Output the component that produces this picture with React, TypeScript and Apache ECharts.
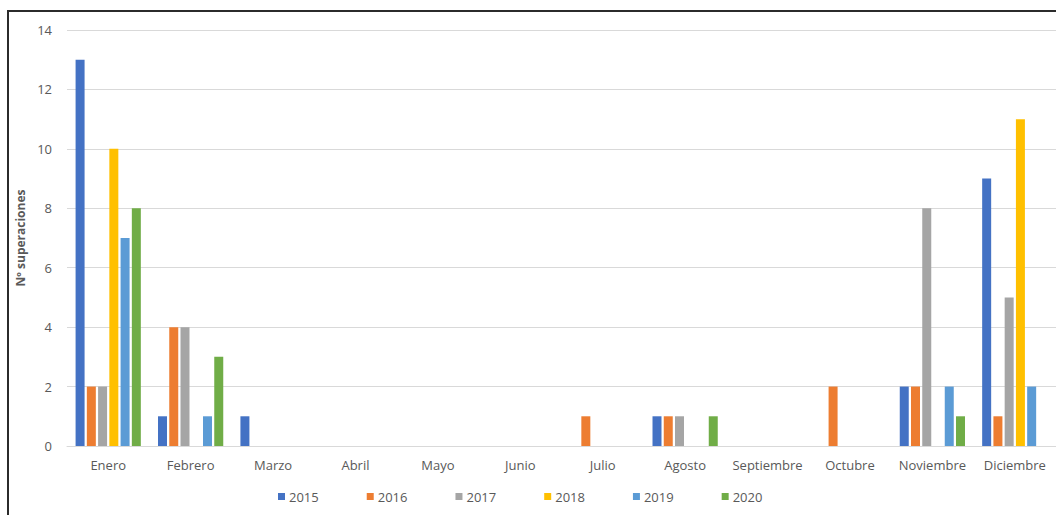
import React, { useEffect, useRef } from "react";
import * as echarts from "echarts";

const months = ["Enero", "Febrero", "Marzo", "Abril", "Mayo", "Junio", "Julio", "Agosto", "Septiembre", "Octubre", "Noviembre", "Diciembre"];
const years = ["2015", "2016", "2017", "2018", "2019", "2020"];
const s2015 = [13, 1, 1, 0, 0, 0, 0, 1, 0, 0, 2, 9];
const s2016 = [2, 4, 0, 0, 0, 0, 1, 1, 0, 2, 2, 1];
const s2017 = [2, 4, 0, 0, 0, 0, 0, 1, 0, 0, 8, 5];
const s2018 = [10, 0, 0, 0, 0, 0, 0, 0, 0, 0, 0, 11];
const s2019 = [7, 1, 0, 0, 0, 0, 0, 0, 0, 0, 2, 2];
const s2020 = [8, 3, 0, 0, 0, 0, 0, 1, 0, 0, 1, 0];
const seriesValues = [s2015, s2016, s2017, s2018, s2019, s2020];
const colors = ["#4472C4", "#ED7D31", "#A5A5A5", "#FFC000", "#5B9BD5", "#70AD47"];
const yTicks = { min: 0, max: 14, interval: 2 };

export default function App() {
  const ref = useRef<HTMLDivElement>(null);
  useEffect(() => {
    if (!ref.current) return;
    const chart = echarts.init(ref.current, undefined, { renderer: "svg" });
    const font = "'Open Sans', 'Noto Sans', sans-serif";
    chart.setOption({
      animation: false,
      textStyle: { fontFamily: font },
      grid: { left: 67, right: 0, top: 30, bottom: 69, containLabel: false },
      legend: {
        bottom: 7,
        left: 273,
        itemWidth: 7,
        itemHeight: 7,
        itemGap: 48,
        icon: "rect",
        textStyle: { color: "#595959", fontSize: 13, fontFamily: font, padding: [0, 0, 0, -1] },
        data: years,
      },
      xAxis: {
        type: "category",
        data: months,
        axisLine: { lineStyle: { color: "#d9d9d9", width: 1 } },
        axisTick: { show: false },
        axisLabel: { color: "#595959", fontSize: 13, margin: 12, interval: 0, fontFamily: font },
      },
      yAxis: {
        type: "value",
        min: yTicks.min,
        max: yTicks.max,
        interval: yTicks.interval,
        name: "Nº superaciones",
        nameLocation: "middle",
        nameGap: 37,
        nameTextStyle: { color: "#595959", fontSize: 12, fontWeight: "bold", fontFamily: font },
        axisLine: { show: false },
        axisTick: { show: false },
        axisLabel: { color: "#595959", fontSize: 13, margin: 15, fontFamily: font },
        splitLine: { lineStyle: { color: "#d9d9d9", width: 1 } },
      },
      series: years.map((y, i) => ({
        name: y,
        type: "bar",
        data: seriesValues[i],
        barWidth: 9,
        barGap: "25%",
        itemStyle: { color: colors[i] },
      })),
      graphic: [
        { type: "line", shape: { x1: 8, y1: 10, x2: 8, y2: 515 }, style: { stroke: "#2b2b2b", lineWidth: 2 } },
        { type: "line", shape: { x1: 7, y1: 11, x2: 1056, y2: 11 }, style: { stroke: "#2b2b2b", lineWidth: 2 } },
      ],
    });
    return () => chart.dispose();
  }, []);
  return <div ref={ref} style={{ position: "absolute", left: 0, top: 0, width: 1056, height: 515 }} />;
}
